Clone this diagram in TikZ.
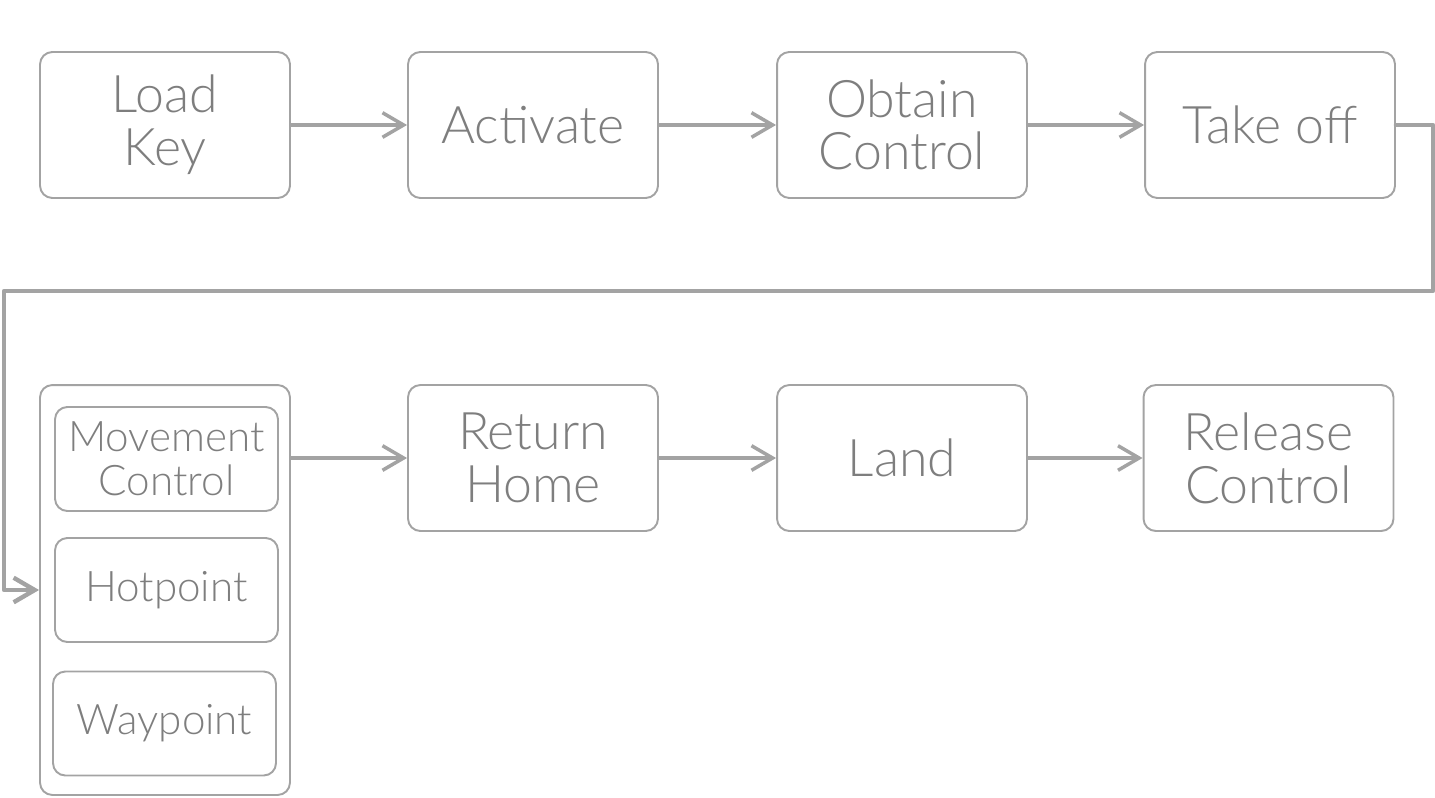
\documentclass[tikz,border=0pt]{standalone}
\usepackage{fontspec}
\setmainfont{Lato}[UprightFont={* Light}]
\usetikzlibrary{arrows.meta,positioning}
\definecolor{edge}{HTML}{A3A3A3}
\definecolor{label}{HTML}{7E7E7E}

\begin{document}
\begin{tikzpicture}[x=0.02cm,y=-0.02cm,line cap=round,line join=round,
  >={Straight Barb[length=12pt,width=14pt]},
  stage/.style={draw=edge,line width=1.1pt,rounded corners=7pt,inner sep=0pt,
    minimum width=5cm,minimum height=2.92cm,align=center,text=label,
    font=\fontsize{29.5}{30}\selectfont},
  substage/.style={stage,minimum width=4.46cm,minimum height=2.08cm,
    font=\fontsize{24}{25}\selectfont},
  flow/.style={->,draw=edge,line width=2pt}]
  \useasboundingbox (0,0) rectangle (1435,797);

  % First row of steps
  \node[stage] (load)    at (165,125)  {Load\\Key};
  \node[stage] (act)     at (533,125)  {Activate};
  \node[stage] (obtain)  at (902,125)  {Obtain\\Control};
  \node[stage] (takeoff) at (1270,125) {Take off};

  % Mission modes, grouped in one tall box
  \node[stage,minimum height=8.2cm] (modes) at (165,590) {};
  \node[substage] (move)  at (166.5,459) {Movement\\Control};
  \node[substage] (hot)   at (166.5,590) {Hotpoint};
  \node[substage] (way)   at (164.5,723.5) {Waypoint};

  % Second row of steps
  \node[stage] (ret)     at (533,458)    {Return\\Home};
  \node[stage] (land)    at (902,458)    {Land};
  \node[stage] (release) at (1268.5,458) {Release\\Control};

  \draw[flow] (load) -- (act);
  \draw[flow] (act) -- (obtain);
  \draw[flow] (obtain) -- (takeoff);

  % Wrap round to the second row
  \coordinate (turnR) at (1433,291);
  \coordinate (turnL) at (4,291);
  \draw[flow,line width=2.5pt] (takeoff.east) -| (turnR) -- (turnL) |- (modes.west);

  \draw[flow] (modes.east |- ret.west) -- (ret.west);
  \draw[flow] (ret) -- (land);
  \draw[flow] (land) -- (release);
\end{tikzpicture}
\end{document}
